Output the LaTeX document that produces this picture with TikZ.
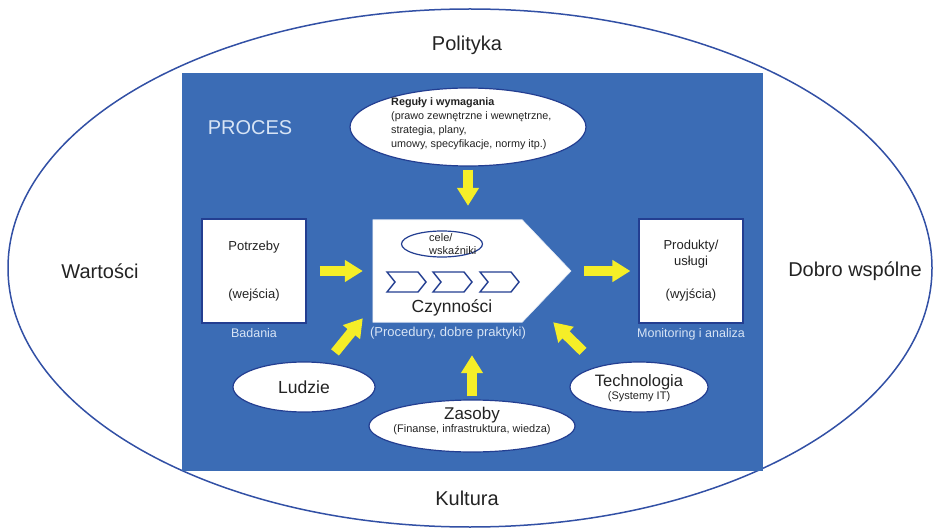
\documentclass[tikz,border=0pt]{standalone}
\usepackage{fontspec}
\setmainfont{Liberation Sans}
\usetikzlibrary{arrows.meta,calc,shapes.geometric}

\definecolor{procblue}{RGB}{59,108,181}
\definecolor{edgeblue}{RGB}{35,62,145}
\definecolor{ringblue}{RGB}{50,80,165}
\definecolor{arrowyellow}{RGB}{245,238,40}
\definecolor{paleblue}{RGB}{215,228,245}
\definecolor{inktext}{RGB}{35,35,35}

\begin{document}
\begin{tikzpicture}[x=1pt,y=-1pt,
  whitebox/.style={draw=edgeblue, line width=1.2pt, fill=white,
    minimum width=104pt, minimum height=104pt, inner sep=0pt,
    align=center, text=inktext, font=\fontsize{13}{15.6}\selectfont},
  oval/.style={ellipse, draw=edgeblue, line width=1.2pt, fill=white, inner sep=0pt},
  ovaltext/.style={align=center, text=inktext, inner sep=0pt},
  yarrow/.style={draw=arrowyellow, line width=10pt,
    -{Triangle[length=18pt,width=21pt]}},
  caption/.style={text=paleblue, inner sep=0pt, font=\fontsize{12.5}{15}\selectfont},
  outerlabel/.style={text=inktext, inner sep=0pt, font=\fontsize{20}{24}\selectfont},
  chevron/.style={draw=edgeblue, line width=1.4pt, fill=white, line join=miter}]

\useasboundingbox (0,0) rectangle (934,529);

% outer ring and its four labels
\draw[ringblue, line width=1.5pt] (470,268) ellipse [x radius=462, y radius=259];
\node[outerlabel] (polityka) at (467,45) {Polityka};
\node[outerlabel] (kultura) at (467,498) {Kultura};
\node[outerlabel] (wartosci) at (100,271) {Wartości};
\node[outerlabel] (dobro) at (855,271) {Dobro wspólne};

% process panel
\fill[procblue] (182,73) rectangle (763,471);
\node[text=paleblue, inner sep=0pt, font=\fontsize{20}{24}\selectfont] (proces) at (250,128) {PROCES};

% rules and requirements
\node[oval, minimum width=236pt, minimum height=78pt] (reguly) at (468,127) {};
\node[anchor=west, align=left, inner sep=0pt, text=inktext,
      font=\fontsize{10.8}{14}\selectfont] (regulytxt) at (391,124)
  {\textbf{Reguły i wymagania}\\(prawo zewnętrzne i wewnętrzne,\\strategia, plany,\\umowy, specyfikacje, normy itp.)};

% inputs and outputs
\node[whitebox] (potrz) at (254,271) {Potrzeby\\[33pt](wejścia)};
\node[caption, anchor=north] (badania) at ([yshift=-5pt]potrz.south) {Badania};
\node[whitebox] (produkty) at (691,271) {Produkty/\\usługi\\[18pt](wyjścia)};
\node[caption, anchor=north] (monitoring) at ([yshift=-5pt]produkty.south) {Monitoring i analiza};

% activities block
\node[minimum width=149pt, minimum height=102pt, inner sep=0pt] (czyn) at (447.5,271) {};
\coordinate (czyntip) at (571,271);
\draw[fill=white, draw=white!85!procblue, line width=0.6pt]
  (czyn.north west) -- (czyn.north east) -- (czyntip) -- (czyn.south east) -- (czyn.south west) -- cycle;
\node[ellipse, draw=edgeblue, line width=1.2pt, fill=white, inner sep=0pt,
      minimum width=81pt, minimum height=26pt] (cele) at (442,244) {};
\node[anchor=west, align=left, inner sep=0pt, text=inktext,
      font=\fontsize{11}{13}\selectfont] (celetxt) at (429,244) {cele/\\wskaźniki};
\foreach \cx in {387,433,480}
  \draw[chevron] (\cx,272) -- ++(31,0) -- ++(8,10) -- ++(-8,10) -- ++(-31,0) -- ++(8,-10) -- cycle;
\node[text=inktext, inner sep=0pt, font=\fontsize{17.5}{21}\selectfont] (czyntxt) at (452,308) {Czynności};
\node[caption, font=\fontsize{13}{15}\selectfont] (procedury) at (448,333) {(Procedury, dobre praktyki)};

% resources
\node[oval, minimum width=142pt, minimum height=50pt] (ludzie) at (304,387) {};
\node[ovaltext, font=\fontsize{17.5}{21}\selectfont] (ludzietxt) at (ludzie) {Ludzie};
\node[oval, minimum width=206pt, minimum height=52pt] (zasoby) at (472,426) {};
\node[ovaltext] (zasobytxt) at (472,421)
  {{\fontsize{17}{20}\selectfont Zasoby}\\[1pt]{\fontsize{11}{13}\selectfont (Finanse, infrastruktura, wiedza)}};
\node[oval, minimum width=138pt, minimum height=50pt] (tech) at (639,387) {};
\node[ovaltext] (techtxt) at (639,388)
  {{\fontsize{16.5}{20}\selectfont Technologia}\\[1pt]{\fontsize{11}{13}\selectfont (Systemy IT)}};

% flows
\draw[yarrow, shorten <=3pt, shorten >=14pt] (reguly.south) -- (czyn.north -| reguly.south);
\draw[yarrow, shorten <=13pt, shorten >=10pt] (potrz.east) -- (czyn.west);
\draw[yarrow, shorten <=13pt, shorten >=8pt] (czyntip) -- (produkty.west);
\draw[yarrow, shorten <=3pt, shorten >=33pt] (zasoby.north) -- (czyn.south -| zasoby.north);
\draw[yarrow] ($(ludzie.north)+(31,-9)$) -- ($(czyn.south west)+(-10,-4)$);
\draw[yarrow] ($(tech.north)+(-56,-10)$) -- ($(czyn.south east)+(31,0)$);

\end{tikzpicture}
\end{document}
